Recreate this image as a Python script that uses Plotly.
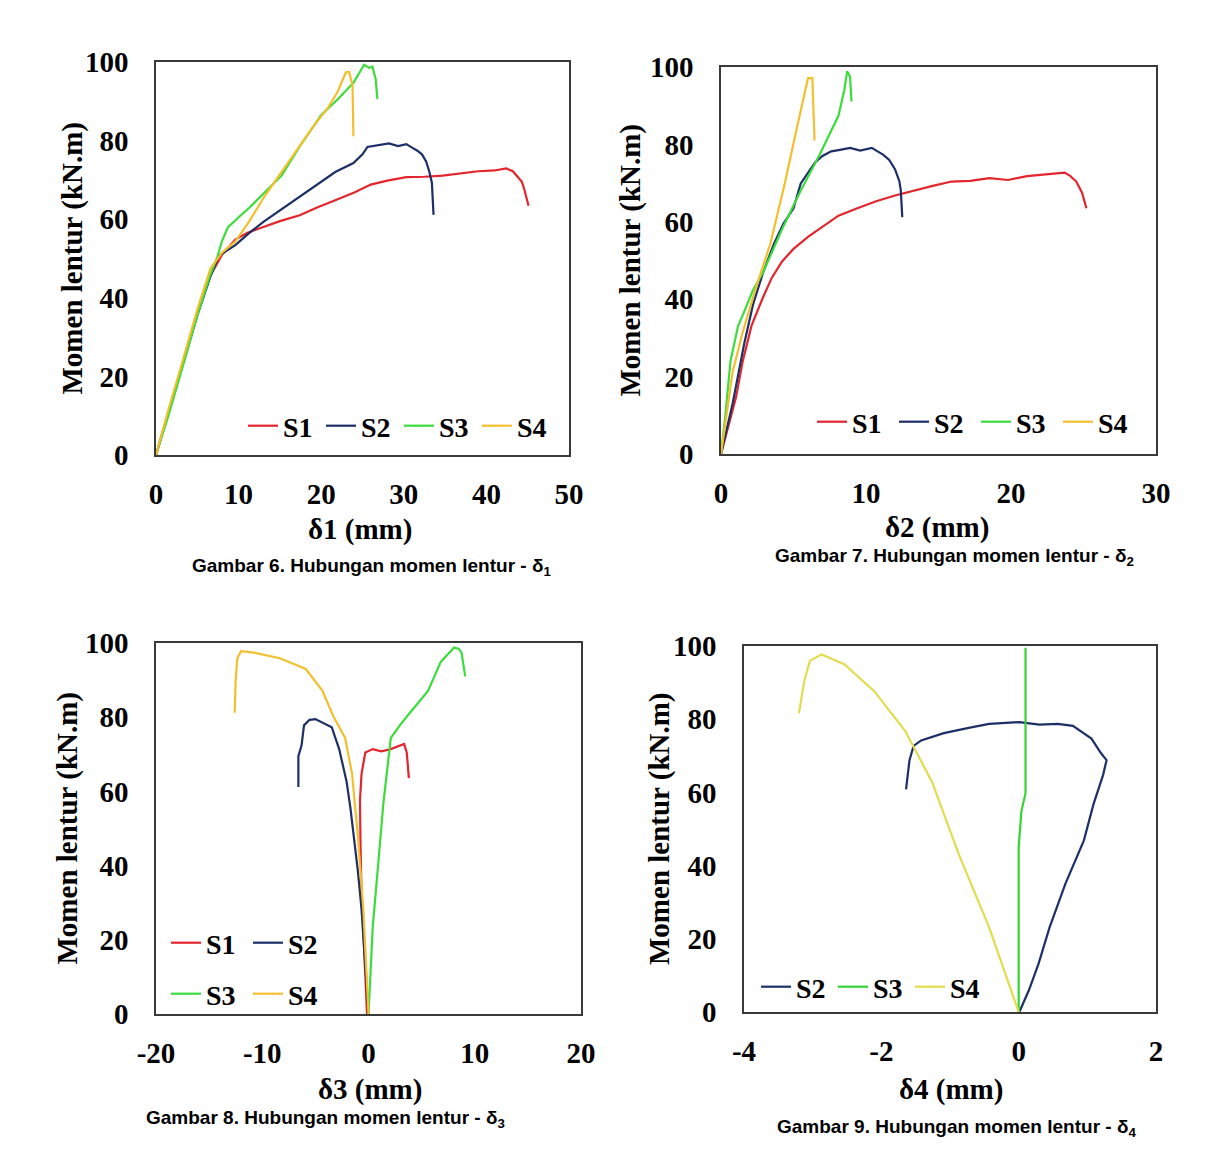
import plotly.graph_objects as go

W, H = 1205, 1170

# ---------------- data ----------------
# Gambar 6 : delta 1
d1_s1_x = [0, 1.5, 3.3, 5.0, 6.6, 8.0, 9.6, 11.0, 13.0, 15.0, 17.4, 19.5, 21.7, 24.0, 26.0, 28.0, 30.3, 32.5, 34.7, 37.0, 39.0, 41.0, 42.4, 43.2, 43.7, 44.3, 44.6, 45.1]
d1_s1_y = [0, 11, 24, 36, 45.7, 51, 54.8, 56.5, 58, 59.5, 61, 63, 64.8, 66.8, 68.8, 69.8, 70.7, 70.8, 71.1, 71.6, 72.2, 72.4, 72.9, 72.2, 71.1, 69.5, 67.5, 63.4]
d1_s2_x = [0, 1.5, 3.3, 5.0, 6.6, 7.6, 9.6, 11.3, 13.0, 15.2, 17.4, 19.5, 21.7, 23.9, 25.0, 25.6, 27.0, 28.2, 29.3, 30.3, 31.0, 31.6, 32.2, 32.7, 33.1, 33.4, 33.6]
d1_s2_y = [0, 10.5, 23.5, 35.5, 45.5, 50.7, 53.4, 56.5, 59.3, 62.5, 65.7, 68.8, 72, 74.3, 76.5, 78.4, 78.8, 79.3, 78.6, 79.1, 78.2, 77.5, 76.5, 74.7, 72.0, 69.3, 61.1]
d1_s3_x = [0, 1.5, 3.3, 5.0, 6.6, 7.4, 8.0, 8.7, 10.0, 11.3, 13.0, 15.2, 17.4, 20.0, 22.0, 23.9, 25.2, 25.8, 26.2, 26.6, 26.8]
d1_s3_y = [0, 10, 23, 35.5, 46, 50.2, 54.5, 57.9, 60.5, 62.9, 66.5, 71.1, 78.5, 86.5, 90.5, 94.7, 99.3, 98.5, 98.8, 95.6, 90.6]
d1_s4_x = [0, 1.5, 3.3, 5.0, 6.6, 8.0, 9.6, 11.3, 13.1, 15.2, 17.4, 19.0, 20.8, 22.0, 23.0, 23.4, 23.8, 23.9]
d1_s4_y = [0, 11.5, 24.5, 37, 47.5, 51.5, 54.3, 59.5, 65.7, 72, 78.4, 83.5, 88.3, 92.5, 97.4, 97.4, 93.8, 81.1]

# Gambar 7 : delta 2
d2_s1_x = [0, 0.5, 1.04, 1.5, 2.1, 2.9, 3.5, 4.2, 5.0, 6.0, 7.0, 8.1, 9.4, 10.7, 12.0, 13.3, 14.6, 15.9, 17.2, 18.5, 19.8, 21.1, 22.2, 23.2, 23.7, 24.1, 24.5, 24.9, 25.2]
d2_s1_y = [0, 7, 14.7, 24, 33.1, 40.5, 45.5, 49.7, 53, 56.1, 58.8, 61.6, 63.5, 65.3, 66.8, 68.1, 69.3, 70.4, 70.6, 71.3, 70.8, 71.8, 72.2, 72.7, 72.7, 71.8, 70.4, 67.5, 63.5]
d2_s2_x = [0, 0.8, 1.6, 2.2, 2.9, 3.65, 4.3, 5.0, 5.5, 6.0, 6.5, 7.0, 7.6, 8.2, 8.9, 9.6, 10.4, 10.8, 11.2, 11.6, 12.0, 12.3, 12.4, 12.5]
d2_s2_y = [0, 13, 28.5, 38.5, 46.9, 54.3, 59.5, 63.5, 69.9, 72.5, 75.4, 77.0, 78.2, 78.6, 79.1, 78.4, 79.1, 78.2, 77.3, 76.0, 73.6, 70.5, 68.1, 61.2]
d2_s3_x = [0, 0.3, 0.65, 1.17, 1.7, 2.2, 2.9, 4.2, 5.5, 6.8, 8.1, 8.5, 8.7, 8.9, 9.0]
d2_s3_y = [0, 10, 23.9, 33, 37.7, 42.3, 46.9, 58, 68.1, 77.3, 87.4, 94, 98.9, 97.5, 91.1]
d2_s4_x = [0, 0.8, 1.5, 2.35, 3.4, 4.4, 5.2, 5.6, 6.0, 6.3, 6.4, 6.45]
d2_s4_y = [0, 21.2, 31.5, 42.3, 54.3, 69.9, 83.7, 90.5, 97.1, 97.1, 83.7, 81]

# Gambar 8 : delta 3
d3_s1_x = [-0.14, -0.4, -0.66, -0.75, -0.8, -0.66, -0.3, 0.4, 1.2, 2.1, 2.8, 3.35, 3.6, 3.8]
d3_s1_y = [0, 16, 33.3, 45, 57.7, 64.6, 70.5, 71.4, 70.8, 71.4, 72.2, 72.8, 70.5, 63.6]
d3_s2_x = [0, -0.3, -0.66, -1.0, -1.36, -1.7, -2.06, -2.76, -3.46, -4.5, -5.0, -5.55, -6.07, -6.3, -6.6, -6.6]
d3_s2_y = [0, 14, 28.4, 38.5, 47.9, 55.5, 62.6, 71.4, 77.3, 78.8, 79.5, 79.3, 77.8, 72.4, 69.5, 61.2]
d3_s3_x = [0, 0.4, 0.9, 1.4, 2.1, 3.0, 3.9, 5.6, 6.8, 8.06, 8.5, 8.76, 9.1]
d3_s3_y = [0, 23.5, 40, 56.8, 74.4, 78, 81.2, 87.1, 94.9, 98.8, 98.4, 97.4, 91]
d3_s4_x = [0, -0.49, -1.0, -1.54, -2.2, -3.3, -4.33, -5.9, -8.34, -10.8, -12.0, -12.35, -12.5, -12.6]
d3_s4_y = [0, 28.4, 47.9, 64.6, 74.4, 80.2, 87.1, 93.0, 95.9, 97.4, 97.8, 95.9, 90, 81.2]

# Gambar 9 : delta 4
d4_s2_x = [0.01, 0.15, 0.29, 0.45, 0.68, 0.95, 1.09, 1.23, 1.28, 1.2, 1.06, 0.79, 0.57, 0.3, 0.01, -0.43, -0.71, -1.09, -1.42, -1.53, -1.59, -1.64]
d4_s2_y = [0, 6, 13.2, 23.1, 35, 46.9, 56.8, 64.8, 68.8, 70.7, 74.7, 78.2, 78.7, 78.5, 79.2, 78.7, 77.7, 76.2, 74.2, 72.7, 68.8, 60.8]
d4_s3_x = [0, 0, 0.04, 0.1, 0.1, 0.1]
d4_s3_y = [0, 45, 54.9, 59.8, 80, 99.5]
d4_s4_x = [0, -0.43, -0.87, -1.26, -1.65, -2.1, -2.54, -2.87, -3.04, -3.12, -3.2]
d4_s4_y = [0, 23.1, 43, 62.8, 76.7, 87.6, 95, 97.7, 96, 90.6, 81.6]

y_ticks = [0, 20, 40, 60, 80, 100]
x1_ticks = [0, 10, 20, 30, 40, 50]
x2_ticks = [0, 10, 20, 30]
x3_ticks = [-20, -10, 0, 10, 20]
x3_labels = ["-20", "-10", "0", "10", "20"]
x4_ticks = [-4, -2, 0, 2]
x4_labels = ["-4", "-2", "0", "2"]

y_title = "Momen lentur (kN.m)"
x_titles = ["δ1 (mm)", "δ2 (mm)", "δ3 (mm)", "δ4 (mm)"]
captions = ["Gambar 6. Hubungan momen lentur - δ<sub>1</sub>",
            "Gambar 7. Hubungan momen lentur - δ<sub>2</sub>",
            "Gambar 8. Hubungan momen lentur - δ<sub>3</sub>",
            "Gambar 9. Hubungan momen lentur - δ<sub>4</sub>"]

# ---------------- styling ----------------
RED, NAVY, GREEN, GOLD = "#e3262d", "#1c2f66", "#3ddc3d", "#f2c02e"
YEL4, GREEN4 = "#e2dc4e", "#35d435"
SERIF = "Liberation Serif, Times New Roman, serif"
SANS = "Liberation Sans, Arial, sans-serif"
TICK_FONT = dict(family=SERIF, size=29, color="black", weight="bold")

fig = go.Figure()

def add(x, y, name, color, ax, leg):
    fig.add_trace(go.Scatter(x=x, y=y, mode="lines", name=name,
                             line=dict(color=color, width=2.2),
                             xaxis="x" + ax, yaxis="y" + ax, legend=leg,
                             hoverinfo="skip"))

add(d1_s1_x, d1_s1_y, "S1", RED, "", "legend")
add(d1_s2_x, d1_s2_y, "S2", NAVY, "", "legend")
add(d1_s3_x, d1_s3_y, "S3", GREEN, "", "legend")
add(d1_s4_x, d1_s4_y, "S4", GOLD, "", "legend")

add(d2_s1_x, d2_s1_y, "S1", RED, "2", "legend2")
add(d2_s2_x, d2_s2_y, "S2", NAVY, "2", "legend2")
add(d2_s3_x, d2_s3_y, "S3", GREEN, "2", "legend2")
add(d2_s4_x, d2_s4_y, "S4", GOLD, "2", "legend2")

add(d3_s1_x, d3_s1_y, "S1", RED, "3", "legend3")
add(d3_s2_x, d3_s2_y, "S2", NAVY, "3", "legend3")
add(d3_s3_x, d3_s3_y, "S3", GREEN, "3", "legend5")
add(d3_s4_x, d3_s4_y, "S4", GOLD, "3", "legend5")

add(d4_s2_x, d4_s2_y, "S2", NAVY, "4", "legend4")
add(d4_s3_x, d4_s3_y, "S3", GREEN4, "4", "legend4")
add(d4_s4_x, d4_s4_y, "S4", YEL4, "4", "legend4")

# pixel boxes: (left, right, top, bottom)
boxes = [(156, 569, 62, 455), (721, 1156, 67, 454), (156, 581, 643, 1014), (744, 1156, 646, 1012)]
xranges = [[0, 50], [0, 30], [-20, 20], [-4, 2]]
xticks = [(x1_ticks, [str(v) for v in x1_ticks]), (x2_ticks, [str(v) for v in x2_ticks]),
          (x3_ticks, x3_labels), (x4_ticks, x4_labels)]

layout = dict(width=W, height=H, margin=dict(l=0, r=0, t=0, b=0, pad=0, autoexpand=False),
              paper_bgcolor="white", plot_bgcolor="white", showlegend=True)

for i, (l, r, t, b) in enumerate(boxes):
    sfx = "" if i == 0 else str(i + 1)
    layout["xaxis" + sfx] = dict(domain=[l / W, r / W], range=xranges[i], anchor="y" + sfx,
                                 tickvals=xticks[i][0], ticktext=xticks[i][1], automargin=False,
                                 showgrid=False, zeroline=False, showline=True, mirror=True,
                                 linecolor="#3a3a3a", linewidth=1.5, ticks="",
                                 ticklabelstandoff=12, tickfont=TICK_FONT)
    layout["yaxis" + sfx] = dict(domain=[1 - b / H, 1 - t / H], range=[0, 100], anchor="x" + sfx,
                                 tickvals=y_ticks, showgrid=False, zeroline=False, showline=True,
                                 mirror=True, linecolor="#3a3a3a", linewidth=1.5, ticks="",
                                 automargin=False, ticklabelstandoff=20, tickfont=TICK_FONT)

LEG_FONT = dict(family=SERIF, size=28, color="black", weight="bold")
def legend(xpx, ypx, ew):
    return dict(x=xpx / W, y=1 - ypx / H, xanchor="left", yanchor="middle", orientation="h",
                bgcolor="rgba(0,0,0,0)", borderwidth=0, font=LEG_FONT, itemwidth=30,
                entrywidth=ew, entrywidthmode="pixels",
                tracegroupgap=0, itemclick=False, itemdoubleclick=False)

layout["legend"] = legend(243, 426, 33)
layout["legend2"] = legend(812, 422, 37)
layout["legend3"] = legend(166, 943, 37)
layout["legend5"] = legend(166, 994, 37)
layout["legend4"] = legend(756, 987, 32)

ann = []
ytitle_x = [72, 630, 67, 659]
xtitle_pos = [(360, 530), (937, 528), (370, 1089), (951, 1089)]
cap_pos = [(371, 567), (954, 557), (325, 1119), (956, 1128)]
for i, (l, r, t, b) in enumerate(boxes):
    ann.append(dict(text=y_title, x=ytitle_x[i] / W, y=1 - (t + b) / 2 / H, xref="paper", yref="paper",
                    textangle=-90, showarrow=False, xanchor="center", yanchor="middle",
                    font=dict(family=SERIF, size=29, color="black", weight="bold")))
    ann.append(dict(text=x_titles[i], x=xtitle_pos[i][0] / W, y=1 - xtitle_pos[i][1] / H,
                    xref="paper", yref="paper", showarrow=False, xanchor="center", yanchor="middle",
                    font=dict(family=SERIF, size=29, color="black", weight="bold")))
    ann.append(dict(text=captions[i], x=cap_pos[i][0] / W, y=1 - cap_pos[i][1] / H,
                    xref="paper", yref="paper", showarrow=False, xanchor="center", yanchor="middle",
                    font=dict(family=SANS, size=19, color="black", weight="bold")))
layout["annotations"] = ann

fig.update_layout(**layout)
fig.write_html("out.html")
